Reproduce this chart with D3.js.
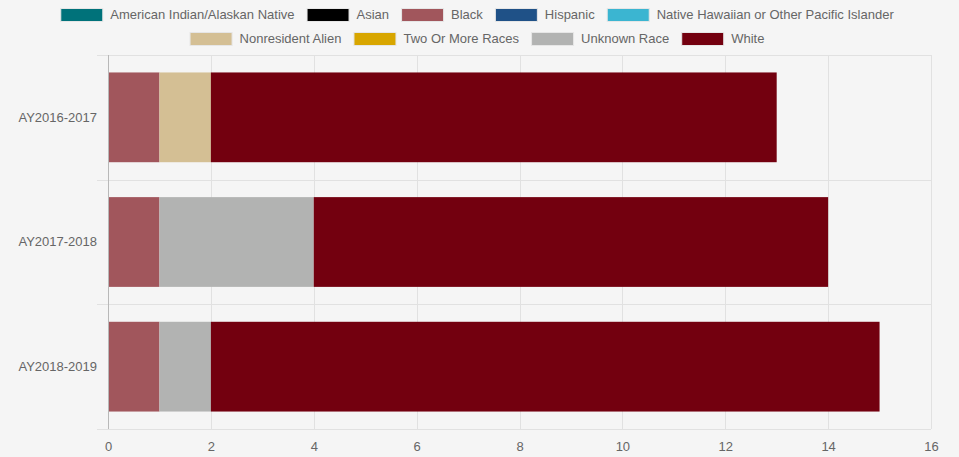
<!DOCTYPE html>
<html>
<head>
<meta charset="utf-8">
<script src="https://cdn.jsdelivr.net/npm/d3@7"></script>
<style>
  html, body { margin: 0; padding: 0; background: #f5f5f5; }
  svg { display: block; font-family: "Liberation Sans", Arial, Helvetica, sans-serif; }
</style>
</head>
<body>
<svg id="chart" width="959" height="457"></svg>
<script>
// Academic years (y categories)
const years = ["AY2016-2017", "AY2017-2018", "AY2018-2019"];

// Race / ethnicity series, in stacking order
const groups = [
  "American Indian/Alaskan Native", "Asian", "Black", "Hispanic",
  "Native Hawaiian or Other Pacific Islander", "Nonresident Alien",
  "Two Or More Races", "Unknown Race", "White"
];
const groupColors = [
  "#00727a", "#000000", "#a1565c", "#1f5187",
  "#3bb5d1", "#d4bf94", "#d8a600", "#b2b3b2", "#73000f"
];

// Counts per series, one value per academic year
const americanIndian = [0, 0, 0];
const asian          = [0, 0, 0];
const black          = [1, 1, 1];
const hispanic       = [0, 0, 0];
const nativeHawaiian = [0, 0, 0];
const nonresident    = [1, 0, 0];
const twoOrMore      = [0, 0, 0];
const unknownRace    = [0, 3, 1];
const white          = [11, 10, 13];

const xTicks = [0, 2, 4, 6, 8, 10, 12, 14, 16];

const seriesValues = [americanIndian, asian, black, hispanic, nativeHawaiian,
                      nonresident, twoOrMore, unknownRace, white];

const rows = years.map((yr, i) => {
  const r = { year: yr };
  groups.forEach((g, j) => { r[g] = seriesValues[j][i]; });
  return r;
});

const svg = d3.select("#chart");
const W = 959;
const FS = 13;
const plotLeft = 108, plotRight = 931, plotTop = 55, plotBottom = 429;

const x = d3.scaleLinear().domain([0, 16]).range([plotLeft, plotRight]);
const y = d3.scaleBand().domain(years).range([plotTop, plotBottom]).paddingInner(0).paddingOuter(0);
const color = d3.scaleOrdinal().domain(groups).range(groupColors);

// Grid: vertical lines at x ticks
const grid = svg.append("g");
grid.selectAll("line.v").data(xTicks).join("line")
  .attr("x1", d => Math.round(x(d)) + 0.5).attr("x2", d => Math.round(x(d)) + 0.5)
  .attr("y1", plotTop).attr("y2", plotBottom)
  .attr("stroke", "#e1e1e1").attr("stroke-width", 1);

// Horizontal lines at category boundaries
const bounds = years.map(d => y(d)).concat([plotBottom]);
grid.selectAll("line.h").data(bounds).join("line")
  .attr("x1", plotLeft - 11).attr("x2", plotRight)
  .attr("y1", d => Math.round(d) + 0.5).attr("y2", d => Math.round(d) + 0.5)
  .attr("stroke", "#e1e1e1").attr("stroke-width", 1);

// Stacked bars
const stacked = d3.stack().keys(groups)(rows);
const barH = y.bandwidth() * 0.72;
svg.append("g").selectAll("g").data(stacked).join("g")
  .attr("fill", d => color(d.key))
  .selectAll("rect").data(d => d).join("rect")
  .attr("x", d => x(d[0]))
  .attr("width", d => x(d[1]) - x(d[0]))
  .attr("y", d => y(d.data.year) + (y.bandwidth() - barH) / 2)
  .attr("height", barH);

// Y axis line drawn over the bars
svg.append("line")
  .attr("x1", plotLeft + 0.5).attr("x2", plotLeft + 0.5)
  .attr("y1", plotTop).attr("y2", plotBottom)
  .attr("stroke", "#b8b8b8");

// X axis labels
const xAxis = d3.axisBottom(x).tickValues(xTicks).tickSize(0).tickPadding(0);
const gx = svg.append("g").attr("transform", `translate(0, ${plotBottom})`).call(xAxis);
gx.select(".domain").remove();
gx.selectAll("text")
  .attr("y", 22).attr("dy", null)
  .attr("fill", "#666").attr("font-size", FS)
  .attr("font-family", "'Liberation Sans', Arial, sans-serif");

// Y axis labels
const yAxis = d3.axisLeft(y).tickSize(0).tickPadding(0);
const gy = svg.append("g").attr("transform", `translate(${plotLeft - 11}, 0)`).call(yAxis);
gy.select(".domain").remove();
gy.selectAll("text")
  .attr("fill", "#666").attr("font-size", FS)
  .attr("font-family", "'Liberation Sans', Arial, sans-serif");

// Legend with wrapped, centred rows
const legend = svg.append("g");
const measure = legend.append("text").attr("font-size", FS);
const items = groups.map(g => {
  measure.text(g);
  return { key: g, tw: measure.node().getComputedTextLength() };
});
measure.remove();

const boxW = 43, gapText = 7, gapItem = 12;
const lines = [[]];
let lineW = 0;
items.forEach(it => {
  const w = boxW + gapText + it.tw;
  const add = (lines[lines.length - 1].length ? gapItem : 0) + w;
  if (lineW + add > W - 20 && lines[lines.length - 1].length) {
    lines.push([]);
    lineW = w;
  } else {
    lineW += add;
  }
  it.w = w;
  lines[lines.length - 1].push(it);
});

const centre = 477;
lines.forEach((line, li) => {
  const total = d3.sum(line, d => d.w) + gapItem * (line.length - 1);
  let cx = centre - total / 2;
  const boxTop = 8 + li * 24;
  line.forEach(it => {
    const g = legend.append("g");
    g.append("rect")
      .attr("x", cx + 0.5).attr("y", boxTop + 0.5)
      .attr("width", boxW - 1).attr("height", 13)
      .attr("fill", color(it.key))
      .attr("stroke", "#e6e6e6").attr("stroke-width", 1);
    g.append("text")
      .attr("x", cx + boxW + gapText).attr("y", boxTop + 6)
      .attr("dy", "0.35em")
      .attr("font-size", FS).attr("fill", "#666")
      .text(it.key);
    cx += it.w + gapItem;
  });
});
</script>
</body>
</html>
